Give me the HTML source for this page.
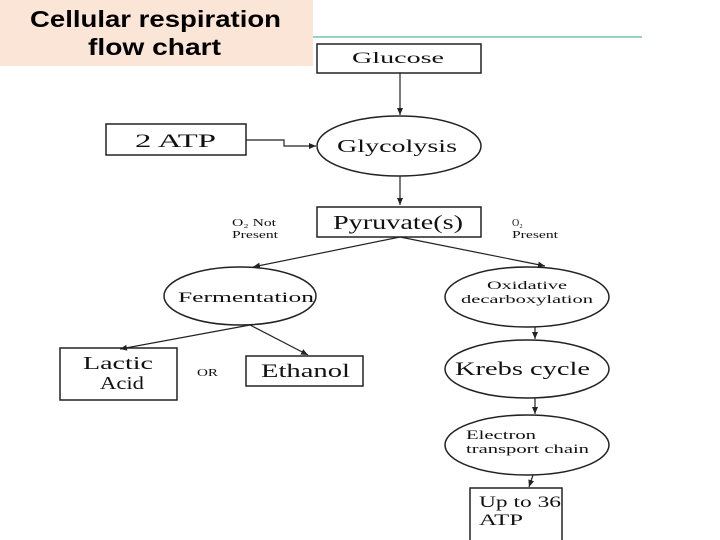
<!DOCTYPE html>
<html><head><meta charset="utf-8"><style>
body{margin:0;width:720px;height:540px;background:#fff;overflow:hidden;position:relative}
.t{position:absolute;left:0;top:0;width:313px;height:66px;background:#fbe5d6}
svg{position:absolute;left:0;top:0}
text{font-family:"Liberation Serif",serif;fill:#111}
.h{font-family:"Liberation Sans",sans-serif;font-weight:bold;font-size:23px;fill:#000}
</style></head><body>
<div class="t"></div>
<svg width="720" height="540">
<defs><marker id="a" markerWidth="8" markerHeight="8" refX="7" refY="4" orient="auto" markerUnits="userSpaceOnUse"><path d="M0,1 L7,4 L0,7z" fill="#222"/></marker></defs>
<text class="h" x="30" y="27" textLength="251" lengthAdjust="spacingAndGlyphs">Cellular respiration</text>
<text class="h" x="88" y="55" textLength="133" lengthAdjust="spacingAndGlyphs">flow chart</text>
<line x1="313" y1="37" x2="642" y2="37" stroke="#3aa57a" stroke-width="1"/>
<g stroke="#222" stroke-width="1.5" fill="none">
<rect x="317" y="44" width="164" height="29"/>
<rect x="106" y="124" width="140" height="31"/>
<ellipse cx="399" cy="146" rx="82" ry="30"/>
<rect x="317" y="207" width="164" height="30"/>
<ellipse cx="240" cy="296" rx="76" ry="29"/>
<ellipse cx="527" cy="297" rx="82" ry="30"/>
<ellipse cx="527" cy="369" rx="82" ry="29"/>
<ellipse cx="527" cy="445" rx="82" ry="30"/>
<rect x="60" y="348" width="117" height="52"/>
<rect x="246" y="356" width="117" height="30"/>
<rect x="470" y="488" width="92" height="60"/>
</g>
<g stroke="#222" stroke-width="1.2" fill="none" marker-end="url(#a)">
<line x1="400" y1="73" x2="400" y2="115"/>
<polyline points="246,140 284,140 284,146 316,146"/>
<line x1="400" y1="176" x2="400" y2="205"/>
<line x1="400" y1="237" x2="253" y2="267"/>
<line x1="400" y1="237" x2="545" y2="266"/>
<line x1="250" y1="325" x2="120" y2="349"/>
<line x1="250" y1="325" x2="308" y2="355"/>
<line x1="535" y1="327" x2="535" y2="339"/>
<line x1="535" y1="398" x2="535" y2="414"/>
<line x1="533" y1="475" x2="529" y2="487"/>
</g>
<g lengthAdjust="spacingAndGlyphs">
<text x="352" y="63" font-size="16" textLength="92" lengthAdjust="spacingAndGlyphs">Glucose</text>
<text x="135" y="147" font-size="19" textLength="81" lengthAdjust="spacingAndGlyphs">2 ATP</text>
<text x="337" y="152" font-size="18" textLength="120" lengthAdjust="spacingAndGlyphs">Glycolysis</text>
<text x="333" y="229" font-size="20" textLength="130" lengthAdjust="spacingAndGlyphs">Pyruvate(s)</text>
<text x="232" y="226" font-size="10" textLength="44" lengthAdjust="spacingAndGlyphs">O₂ Not</text>
<text x="232" y="238" font-size="10" textLength="46" lengthAdjust="spacingAndGlyphs">Present</text>
<text x="512" y="226" font-size="10">O₂</text>
<text x="512" y="238" font-size="10" textLength="46" lengthAdjust="spacingAndGlyphs">Present</text>
<text x="178" y="302" font-size="15" textLength="136" lengthAdjust="spacingAndGlyphs">Fermentation</text>
<text x="487" y="289" font-size="12" textLength="80" lengthAdjust="spacingAndGlyphs">Oxidative</text>
<text x="461" y="303" font-size="12" textLength="132" lengthAdjust="spacingAndGlyphs">decarboxylation</text>
<text x="455" y="375" font-size="19" textLength="135" lengthAdjust="spacingAndGlyphs">Krebs cycle</text>
<text x="466" y="439" font-size="13" textLength="70" lengthAdjust="spacingAndGlyphs">Electron</text>
<text x="466" y="453" font-size="13" textLength="123" lengthAdjust="spacingAndGlyphs">transport chain</text>
<text x="83" y="369" font-size="18" textLength="70" lengthAdjust="spacingAndGlyphs">Lactic</text>
<text x="100" y="389" font-size="18" textLength="44" lengthAdjust="spacingAndGlyphs">Acid</text>
<text x="197" y="376" font-size="11" textLength="21" lengthAdjust="spacingAndGlyphs">OR</text>
<text x="261" y="377" font-size="19" textLength="89" lengthAdjust="spacingAndGlyphs">Ethanol</text>
<text x="479" y="507" font-size="16" textLength="82" lengthAdjust="spacingAndGlyphs">Up to 36</text>
<text x="479" y="525" font-size="16" textLength="44" lengthAdjust="spacingAndGlyphs">ATP</text>
</g>
</svg>
</body></html>
